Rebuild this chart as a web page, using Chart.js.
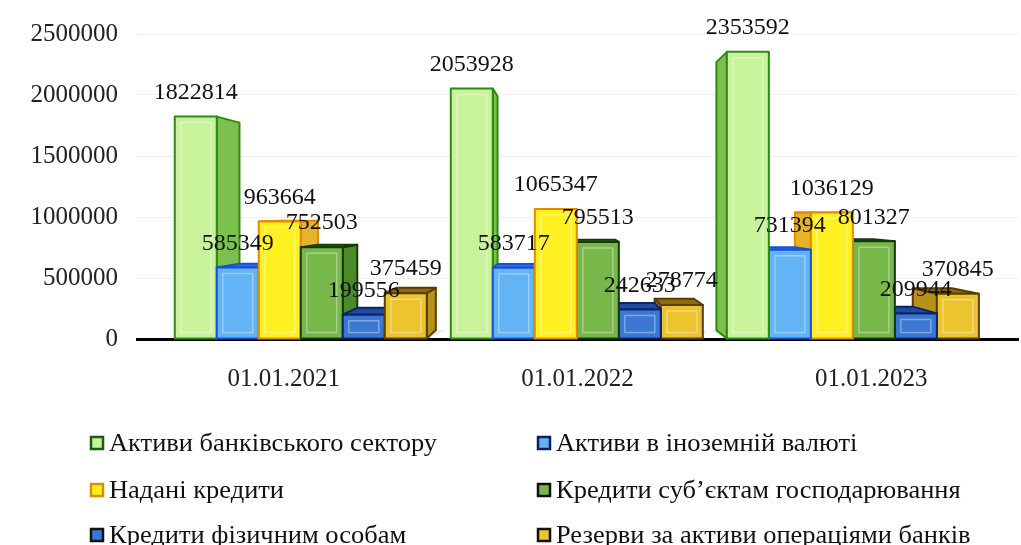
<!DOCTYPE html>
<html>
<head>
<meta charset="utf-8">
<script src="https://cdn.jsdelivr.net/npm/chart.js@4"></script>
<style>
  html, body { margin: 0; padding: 0; background: #ffffff; }
  #c { display: block; }
</style>
</head>
<body>
<canvas id="c" width="1021" height="545"></canvas>
<script>
// ---- data ----
const categories = ['01.01.2021', '01.01.2022', '01.01.2023'];
const seriesNames = [
  'Активи банківського сектору',
  'Активи в іноземній валюті',
  'Надані кредити',
  'Кредити суб’єктам господарювання',
  'Кредити фізичним особам',
  'Резерви за активи операціями банків'
];
const assetsBanking   = [1822814, 2053928, 2353592];
const assetsForeign   = [585349, 583717, 731394];
const loansIssued     = [963664, 1065347, 1036129];
const loansBusiness   = [752503, 795513, 801327];
const loansHouseholds = [199556, 242633, 209944];
const reserves        = [375459, 278774, 370845];
const yTicks = [0, 500000, 1000000, 1500000, 2000000, 2500000];

// ---- styles ----
const frontColors  = ['#c9f39b', '#62b4f5', '#fff022', '#78b84a', '#3a78d4', '#ecc52e'];
const sideColors   = ['#7cc04e', '#3a86e0', '#e6b32a', '#4a8a2a', '#2456b0', '#b8901a'];
const topColors    = ['#a8e070', '#2f6fd8', '#eea52c', '#3f7a20', '#1e4aa0', '#8f6a10'];
const borderColors = ['#2e8b12', '#1a4fd6', '#e08c00', '#163a08', '#0c2466', '#5a3e00'];
const legendBorder = ['#1f5a10', '#0c1f66', '#e08c00', '#111111', '#111111', '#111111'];

const seriesValues = [assetsBanking, assetsForeign, loansIssued, loansBusiness, loansHouseholds, reserves];
const FONT = "'Liberation Serif', 'Times New Roman', serif";

const bars3d = {
  id: 'bars3d',
  beforeDatasetDraw() { return false; },
  afterDatasetsDraw(chart) {
    const ctx = chart.ctx;
    const ca = chart.chartArea;
    const vx = ca.left + (ca.right - ca.left) * 0.487;
    const vy = ca.top + (ca.bottom - ca.top) * 0.575;
    const k = 0.065, sq = 0.94;
    const proj = x => vx + (x - vx) * sq;
    const back = (x, y) => [x + k * (vx - x), y + k * (vy - y)];
    const items = [];
    chart.data.datasets.forEach((ds, i) => {
      chart.getDatasetMeta(i).data.forEach((el, j) => {
        const p = el.getProps(['x', 'y', 'base', 'width'], true);
        items.push({ i, j, l: proj(p.x - p.width / 2), r: proj(p.x + p.width / 2), t: p.y, b: p.base, cx: proj(p.x) });
      });
    });
    // floor per category
    categories.forEach((c, j) => {
      const g = items.filter(it => it.j === j);
      const l = Math.min(...g.map(it => it.l)), r = Math.max(...g.map(it => it.r));
      const b = g[0].b;
      const bl = back(l, b), br = back(r, b);
      ctx.save();
      ctx.fillStyle = '#ececec';
      ctx.beginPath();
      ctx.moveTo(l, b); ctx.lineTo(r, b); ctx.lineTo(br[0] + 12, br[1]); ctx.lineTo(bl[0] - 6, bl[1]);
      ctx.closePath(); ctx.fill();
      ctx.restore();
    });
    items.sort((a, b) => Math.abs(b.cx - vx) - Math.abs(a.cx - vx));
    const poly = (pts, fill, stroke) => {
      ctx.beginPath();
      ctx.moveTo(pts[0][0], pts[0][1]);
      for (let n = 1; n < pts.length; n++) ctx.lineTo(pts[n][0], pts[n][1]);
      ctx.closePath();
      ctx.fillStyle = fill; ctx.fill();
      ctx.strokeStyle = stroke; ctx.lineWidth = 2; ctx.lineJoin = 'round'; ctx.stroke();
    };
    ctx.save();
    items.forEach(it => {
      const { l, r, t, b, i } = it;
      const lt = back(l, t), rt = back(r, t), lb = back(l, b), rb = back(r, b);
      if (vx > r) poly([[r, t], rt, rb, [r, b]], sideColors[i], borderColors[i]);
      else if (vx < l) poly([[l, t], lt, lb, [l, b]], sideColors[i], borderColors[i]);
      if (vy < t) poly([[l, t], [r, t], rt, lt], topColors[i], borderColors[i]);
      poly([[l, t], [r, t], [r, b], [l, b]], frontColors[i], borderColors[i]);
      const ins = 6;
      if (b - t > 2 * ins + 2) {
        ctx.strokeStyle = 'rgba(255,255,255,0.35)';
        ctx.lineWidth = 1.5;
        ctx.strokeRect(l + ins, t + ins, r - l - 2 * ins, b - t - 2 * ins);
      }
    });
    ctx.restore();
    // value labels
    ctx.save();
    ctx.font = '24px ' + FONT;
    ctx.fillStyle = '#111';
    ctx.textAlign = 'center';
    ctx.textBaseline = 'middle';
    items.slice().sort((a, b) => a.i - b.i).forEach(it => {
      const v = chart.data.datasets[it.i].data[it.j];
      ctx.fillText(String(v), it.cx, it.t - 24);
    });
    ctx.restore();
  }
};

// legend drawn on canvas in two columns
const legend2col = {
  id: 'legend2col',
  afterDraw(chart) {
    const ctx = chart.ctx;
    const colX = [91, 538];
    const rowY = [443, 490, 535];
    ctx.save();
    ctx.font = '25px ' + FONT;
    const stretch = 328 / ctx.measureText(chart.data.datasets[0].label).width;
    ctx.textBaseline = 'middle';
    chart.data.datasets.forEach((ds, i) => {
      const x = colX[i % 2], y = rowY[Math.floor(i / 2)];
      ctx.fillStyle = ds.backgroundColor;
      ctx.fillRect(x, y - 6, 12, 12);
      ctx.strokeStyle = legendBorder[i];
      ctx.lineWidth = 2.5;
      ctx.strokeRect(x, y - 6, 12, 12);
      ctx.save();
      ctx.translate(x + 18, y);
      ctx.scale(stretch, 1);
      ctx.fillStyle = '#111';
      ctx.fillText(ds.label, 0, 1);
      ctx.restore();
    });
    ctx.restore();
  }
};

const chart = new Chart(document.getElementById('c'), {
  type: 'bar',
  data: {
    labels: categories,
    datasets: seriesValues.map((vals, i) => ({
      label: seriesNames[i],
      data: vals,
      backgroundColor: frontColors[i],
      borderColor: borderColors[i],
      borderWidth: 2
    }))
  },
  options: {
    responsive: false,
    animation: false,
    devicePixelRatio: 1,
    layout: { padding: { top: 32, right: 3, left: 0, bottom: 0 } },
    plugins: { legend: { display: false }, tooltip: { enabled: false } },
    datasets: { bar: { categoryPercentage: 0.913, barPercentage: 1.0 } },
    scales: {
      x: {
        grid: { display: false, drawTicks: false },
        border: { display: true, color: '#000', width: 3 },
        ticks: { font: { family: FONT, size: 25 }, color: '#222', padding: 25 },
        afterFit(s) { s.height = 545 - 339; }
      },
      y: {
        min: 0, max: 2500000,
        afterBuildTicks(s) { s.ticks = yTicks.map(v => ({ value: v })); },
        grid: { color: '#efefef', drawTicks: false },
        border: { display: false },
        ticks: { font: { family: FONT, size: 25 }, color: '#222', padding: 19, callback: v => String(v) },
        afterFit(s) { s.width = 137; }
      }
    }
  },
  plugins: [bars3d, legend2col]
});
</script>
</body>
</html>
